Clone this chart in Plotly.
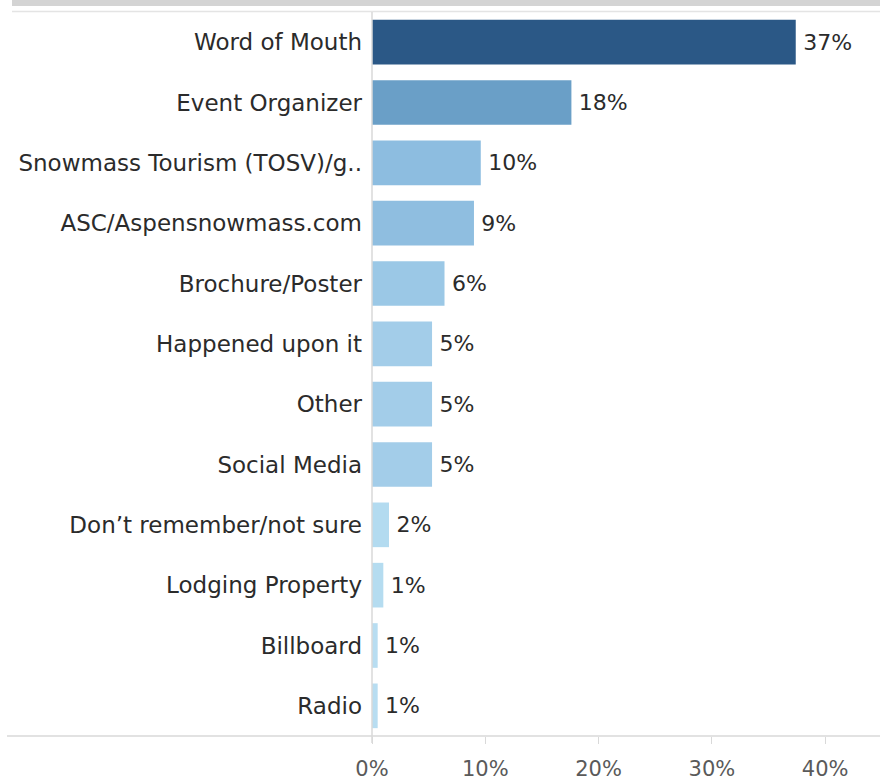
import plotly.graph_objects as go

# How visitors heard about the event (share of respondents, %)
sources = [
    "Word of Mouth",
    "Event Organizer",
    "Snowmass Tourism (TOSV)/g..",
    "ASC/Aspensnowmass.com",
    "Brochure/Poster",
    "Happened upon it",
    "Other",
    "Social Media",
    "Don\u2019t remember/not sure",
    "Lodging Property",
    "Billboard",
    "Radio",
]
shares = [37.4, 17.6, 9.6, 9.0, 6.4, 5.3, 5.3, 5.3, 1.5, 1.0, 0.5, 0.5]
bar_colors = [
    "#2b5886", "#6a9fc7", "#8dbde0", "#8fbee0", "#9bc8e6", "#a3cde9",
    "#a3cde9", "#a3cde9", "#b3dbf0", "#b5dcf0", "#b8ddf1", "#b8ddf1",
]
tick_vals = [0, 10, 20, 30, 40]
tick_text = ["0%", "10%", "20%", "30%", "40%"]

W, H = 880, 781
L, R, T, B = 372, 0, 12, 40
plot_w = W - L - R
plot_h = H - T - B


def px_x(x):
    return (x - L) / plot_w


def px_y(y):
    return (H - B - y) / plot_h


FONT = "DejaVu Sans"

fig = go.Figure(
    go.Bar(
        x=shares,
        y=sources,
        orientation="h",
        marker=dict(color=bar_colors, line=dict(width=0)),
        width=0.74,
        text=shares,
        texttemplate="\u2009%{x:.0f}%",
        textposition="outside",
        textfont=dict(family=FONT, size=22, color="#2b2b2b"),
        cliponaxis=False,
        hoverinfo="skip",
    )
)

line_col = "#d9d9d9"
shapes = [
    # header band along the top
    dict(type="rect", xref="paper", yref="paper",
         x0=px_x(12), x1=px_x(W), y0=px_y(6), y1=px_y(-2),
         fillcolor="#d4d4d4", line=dict(width=0), layer="above"),
    # divider under the header
    dict(type="line", xref="paper", yref="paper",
         x0=px_x(12), x1=px_x(W), y0=px_y(11.5), y1=px_y(11.5),
         line=dict(color="#e4e4e4", width=1.5)),
    # zero line
    dict(type="line", xref="paper", yref="paper",
         x0=px_x(372), x1=px_x(372), y0=px_y(12), y1=px_y(748),
         line=dict(color=line_col, width=1.5)),
    # bottom axis rule across the full width
    dict(type="line", xref="paper", yref="paper",
         x0=px_x(7), x1=px_x(W), y0=px_y(741), y1=px_y(741),
         line=dict(color=line_col, width=1.5)),
]

fig.update_layout(
    width=W,
    height=H,
    margin=dict(l=L, r=R, t=T, b=B, pad=0),
    paper_bgcolor="white",
    plot_bgcolor="white",
    showlegend=False,
    shapes=shapes,
    uniformtext=dict(minsize=22, mode="show"),
    font=dict(family=FONT, size=22, color="#2b2b2b"),
)
fig.update_xaxes(
    range=[0, (W - L) / 11.33],
    tickvals=tick_vals,
    ticktext=tick_text,
    ticks="outside",
    ticklen=7,
    tickcolor=line_col,
    tickwidth=1,
    showgrid=False,
    zeroline=False,
    showline=False,
    tickfont=dict(family=FONT, size=21, color="#5a5a5a"),
    ticklabelstandoff=7,
    fixedrange=True,
)
fig.update_yaxes(
    categoryorder="array",
    categoryarray=sources,
    autorange="reversed",
    showgrid=False,
    zeroline=False,
    showline=False,
    ticks="",
    ticklabelstandoff=9,
    tickfont=dict(family=FONT, size=23, color="#2b2b2b"),
    fixedrange=True,
)

fig.write_html("out.html")
